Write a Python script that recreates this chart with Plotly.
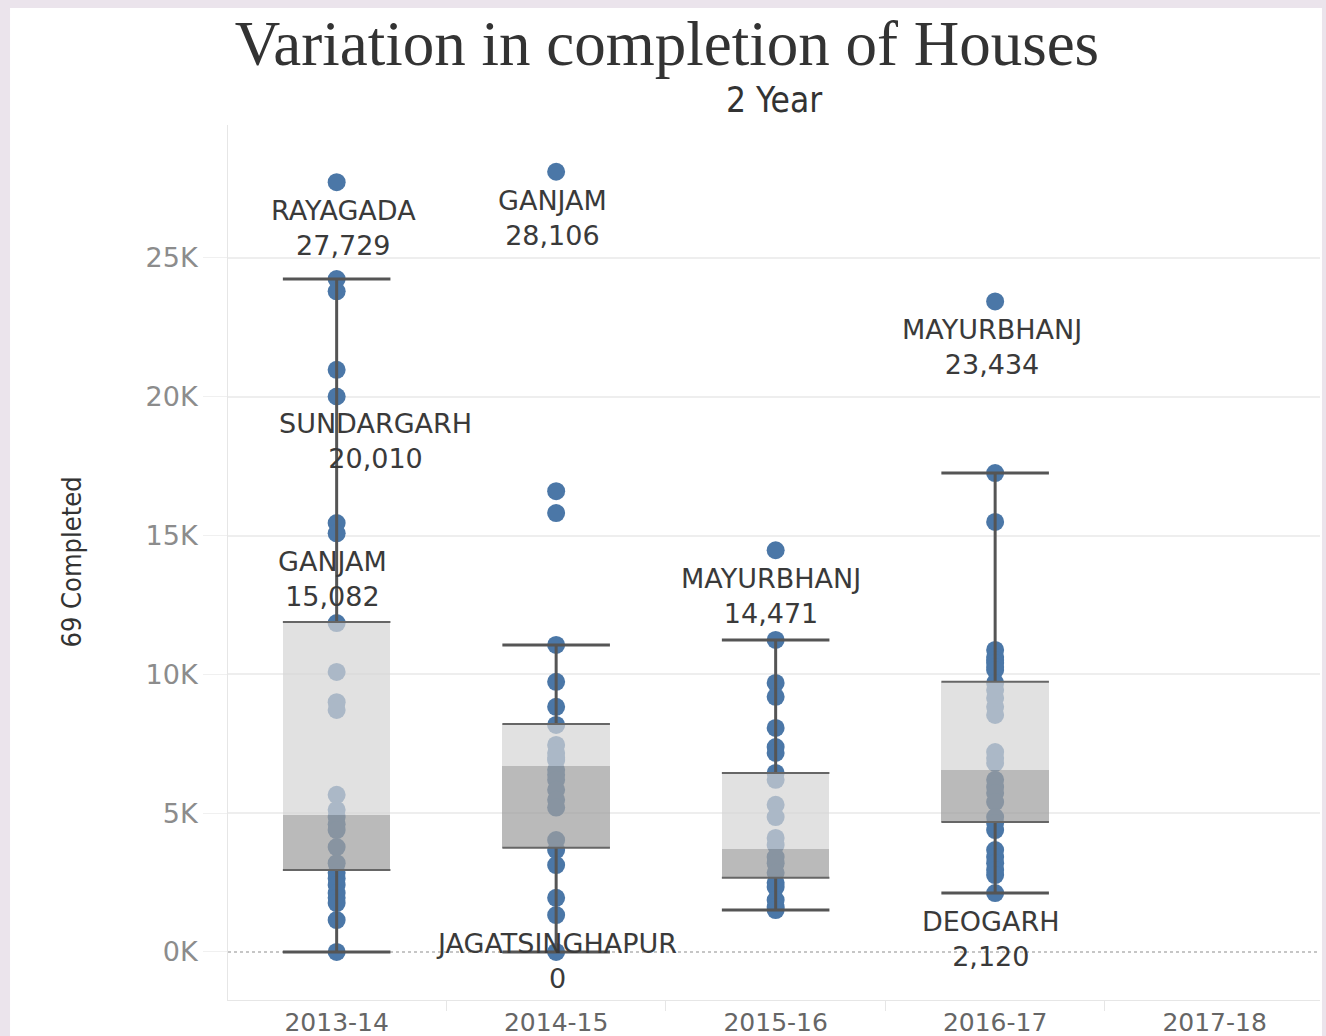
import plotly.graph_objects as go

# ---------------- data ----------------
years = ["2013-14", "2014-15", "2015-16", "2016-17", "2017-18"]

completed_2013_14 = [27729, 24240, 23800, 20970, 20010, 15450, 15082, 11850, 10090,
                     9000, 8720, 5660, 5120, 4860, 4600, 4390, 3780, 3200, 2850, 2650,
                     2410, 2120, 1950, 1760, 1150, 0]
completed_2014_15 = [28106, 16600, 15810, 11060, 9730, 8830, 8180, 7460, 7170, 7000,
                     6920, 6560, 6380, 6200, 5840, 5480, 5200, 4030, 3670, 3130, 1950,
                     1330, 0]
completed_2015_16 = [14471, 11240, 9690, 9190, 8070, 7380, 7170, 6450, 6200, 5300, 4860,
                     4110, 3850, 3420, 3200, 2850, 2490, 2340, 1870, 1620, 1510]
completed_2016_17 = [23434, 17250, 15490, 10880, 10630, 10520, 10410, 10270, 10160, 9690,
                     9440, 9150, 8830, 8540, 7200, 6990, 6810, 6200, 5940, 5730, 5400,
                     4860, 4650, 4390, 3670, 3420, 3200, 2950, 2770, 2120]
completed_2017_18 = []

box_q1 = [2950, 3750, 2670, 4680]
box_median = [4940, 6700, 3710, 6560]
box_q3 = [11890, 8210, 6450, 9730]
whisker_low = [0, 0, 1510, 2120]
whisker_high = [24240, 11060, 11240, 17250]

label_year = ["2013-14", "2014-15", "2013-14", "2013-14", "2015-16", "2016-17", "2014-15", "2016-17"]
label_district = ["RAYAGADA", "GANJAM", "SUNDARGARH", "GANJAM", "MAYURBHANJ", "MAYURBHANJ",
                  "JAGATSINGHAPUR", "DEOGARH"]
label_value = [27729, 28106, 20010, 15082, 14471, 23434, 0, 2120]

y_tick_values = [0, 5000, 10000, 15000, 20000, 25000]
y_tick_text = ["0K", "5K", "10K", "15K", "20K", "25K"]

# ---------------- styling ----------------
DOT = "#4b77a7"
BOX_W = 0.49
label_shift = {  # (xshift, yshift, yanchor)
    0: (7, -11, "top"), 1: (-4, -11, "top"), 2: (39, -10, "top"), 3: (-4, -11, "top"),
    4: (-5, -11, "top"), 5: (-3, -11, "top"), 6: (0, 26, "top"), 7: (-4, -11, "top"),
}
LABEL_FONT = dict(family="DejaVu Sans", size=27, color="#3a3a3a")
NARROW = "Liberation Sans Narrow, DejaVu Sans Condensed, Liberation Sans, sans-serif"

points = [completed_2013_14, completed_2014_15, completed_2015_16, completed_2016_17, completed_2017_18]
idx = {y: i for i, y in enumerate(years)}

fig = go.Figure()

# dots (main subplot)
for i, vals in enumerate(points):
    if not vals:
        continue
    fig.add_trace(go.Scatter(
        x=[i] * len(vals), y=vals, mode="markers",
        marker=dict(color=DOT, size=18, line=dict(width=0)),
        showlegend=False, hoverinfo="y", xaxis="x", yaxis="y"))

nbox = len(box_q1)
xb = list(range(nbox))

# boxes on overlay subplot so they sit above dots
fig.add_trace(go.Bar(x=xb, y=[m - q for m, q in zip(box_median, box_q1)], base=box_q1,
                     width=BOX_W, marker=dict(color="rgba(160,160,160,0.72)", line=dict(width=0)),
                     showlegend=False, xaxis="x2", yaxis="y2", hoverinfo="skip"))
fig.add_trace(go.Bar(x=xb, y=[q - m for q, m in zip(box_q3, box_median)], base=box_median,
                     width=BOX_W, marker=dict(color="rgba(212,212,212,0.70)", line=dict(width=0)),
                     showlegend=False, xaxis="x2", yaxis="y2", hoverinfo="skip"))

# whisker stems
wx, wy = [], []
for i in range(nbox):
    wx += [i, i, None, i, i, None]
    wy += [box_q3[i], whisker_high[i], None, box_q1[i], whisker_low[i], None]
fig.add_trace(go.Scatter(x=wx, y=wy, mode="lines", line=dict(color="#555555", width=3),
                         showlegend=False, xaxis="x2", yaxis="y2", hoverinfo="skip"))
# caps
cx, cy = [], []
for i in range(nbox):
    for v in (whisker_high[i], whisker_low[i]):
        cx += [i - BOX_W / 2, i + BOX_W / 2, None]
        cy += [v, v, None]
fig.add_trace(go.Scatter(x=cx, y=cy, mode="lines", line=dict(color="#555555", width=3),
                         showlegend=False, xaxis="x2", yaxis="y2", hoverinfo="skip"))
# box edges (Q1 / Q3)
ex, ey = [], []
for i in range(nbox):
    for v in (box_q1[i], box_q3[i]):
        ex += [i - BOX_W / 2, i + BOX_W / 2, None]
        ey += [v, v, None]
fig.add_trace(go.Scatter(x=ex, y=ey, mode="lines", line=dict(color="#666666", width=2),
                         showlegend=False, xaxis="x2", yaxis="y2", hoverinfo="skip"))

# labels
annotations = []
for k, (yr, name, val) in enumerate(zip(label_year, label_district, label_value)):
    xs, ys, ya = label_shift[k]
    annotations.append(dict(x=idx[yr], y=val, xref="x", yref="y",
                            text=f"{name}<br>{val:,}", showarrow=False,
                            xanchor="center", yanchor=ya, xshift=xs, yshift=ys,
                            font=LABEL_FONT, align="center"))

annotations.append(dict(x=0.5, y=1, xref="paper", yref="paper", text="2 Year",
                        showarrow=False, xanchor="center", yanchor="bottom", yshift=3,
                        font=dict(family=NARROW, size=35, color="#333333")))
annotations.append(dict(x=0, y=0.5, xref="paper", yref="paper", text="69 Completed",
                        showarrow=False, textangle=-90, xanchor="center", yanchor="middle",
                        xshift=-157,
                        font=dict(family=NARROW, size=27, color="#333333")))

XR = [-0.495, 4.48]
YR = [-1730, 29790]

fig.update_layout(
    width=1326, height=1036,
    margin=dict(l=228, r=6, t=125, b=36, autoexpand=False),
    paper_bgcolor="#ebe4ec", plot_bgcolor="white",
    bargap=0, barmode="overlay",
    title=dict(text="Variation in completion of Houses", x=0.503, xref="container",
               y=1 - 43 / 1036, yref="container", xanchor="center", yanchor="middle",
               font=dict(family="Liberation Serif", size=63, color="#333333"),
               automargin=False),
    xaxis=dict(range=XR, tickmode="array", tickvals=list(range(len(years))), ticktext=years,
               ticks="", showgrid=False, zeroline=False, showline=True, linecolor="#e6e6e6",
               linewidth=1, tickfont=dict(family="DejaVu Sans", size=25, color="#666666"),
               ticklabelstandoff=0, automargin=False,
               minor=dict(tickvals=[i + 0.5 for i in range(len(years) - 1)], ticks="outside",
                          ticklen=10, tickcolor="#e6e6e6", showgrid=False),
               fixedrange=True),
    yaxis=dict(range=YR, tickmode="array", tickvals=y_tick_values, ticktext=y_tick_text,
               showgrid=False, zeroline=False,
               showline=True, linecolor="#e6e6e6", ticks="outside", ticklen=24,
               tickcolor="#f0f0f0", tickfont=dict(family="DejaVu Sans", size=27, color="#8c8c8c"),
               minor=dict(tickvals=[v for v in y_tick_values if v != 0], ticks="",
                          showgrid=True, gridcolor="#eeeeee", gridwidth=1.5),
               automargin=False, fixedrange=True),
    xaxis2=dict(range=XR, overlaying="x", visible=False, fixedrange=True),
    yaxis2=dict(range=YR, overlaying="y", visible=False, fixedrange=True),
    annotations=annotations,
    shapes=[
        dict(type="rect", xref="paper", yref="paper", x0=-0.1996, x1=1.0018, y0=-0.0411, y1=1.1337,
             fillcolor="white", line=dict(width=0), layer="below"),
        dict(type="line", xref="paper", yref="y", x0=0, x1=1, y0=0, y1=0,
             line=dict(color="#b4b4b4", width=1.5, dash="dot"), layer="below"),
    ],
)

fig.write_html("out.html", config={"displayModeBar": False}, post_script=(
    "document.body.style.margin='0';"
    "document.body.style.background='#ebe4ec';"
    "document.documentElement.style.overflow='hidden';"
))
